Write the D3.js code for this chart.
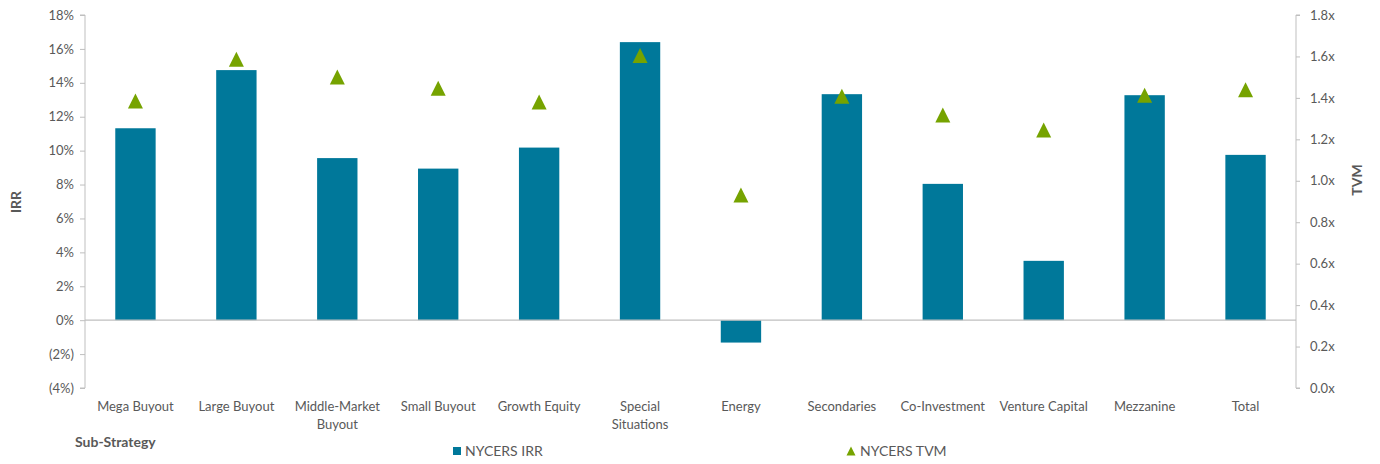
<!DOCTYPE html>
<html>
<head>
<meta charset="utf-8">
<script src="https://cdn.jsdelivr.net/npm/d3@7"></script>
<style>
  html, body { margin: 0; padding: 0; background: #fff; }
  svg text { font-family: Lato, "Open Sans", sans-serif; }
</style>
</head>
<body>
<svg id="chart" width="1380" height="464"></svg>
<script>
const categories = ["Mega Buyout", "Large Buyout", "Middle-Market Buyout", "Small Buyout", "Growth Equity",
  "Special Situations", "Energy", "Secondaries", "Co-Investment", "Venture Capital", "Mezzanine", "Total"];
const categoryLines = [["Mega Buyout"], ["Large Buyout"], ["Middle-Market", "Buyout"], ["Small Buyout"], ["Growth Equity"],
  ["Special", "Situations"], ["Energy"], ["Secondaries"], ["Co-Investment"], ["Venture Capital"], ["Mezzanine"], ["Total"]];
const irrValues = [11.32, 14.75, 9.56, 8.94, 10.18, 16.40, -1.32, 13.33, 8.04, 3.50, 13.27, 9.75];
const tvmValues = [1.385, 1.587, 1.501, 1.447, 1.380, 1.605, 0.931, 1.408, 1.318, 1.245, 1.413, 1.439];
const irrTicks = [-4, -2, 0, 2, 4, 6, 8, 10, 12, 14, 16, 18];
const tvmTicks = [0, 0.2, 0.4, 0.6, 0.8, 1.0, 1.2, 1.4, 1.6, 1.8];
const seriesNames = ["NYCERS IRR", "NYCERS TVM"];

const barColor = "#00789A";
const triColor = "#76A300";
const axisColor = "#BFBFBF";
const textColor = "#595959";

const svg = d3.select("#chart");
const pL = 85, pR = 1296, pT = 15, pB = 388;

const x = d3.scaleBand().domain(categories).range([pL, pR]).paddingInner(0.6).paddingOuter(0.3);
const xc = d3.scaleBand().domain(categories).range([pL, pR]);
const yL = d3.scaleLinear().domain([-4, 18]).range([pB, pT]);
const yR = d3.scaleLinear().domain([0, 1.8]).range([pB, pT]);

// Left axis
const gL = svg.append("g").attr("transform", `translate(${pL},0)`)
  .call(d3.axisLeft(yL).tickValues(irrTicks).tickSize(5).tickPadding(6)
    .tickFormat(d => d < 0 ? `(${Math.abs(d)}%)` : `${d}%`));
gL.select(".domain").attr("stroke", axisColor).attr("d", `M-5,${pT}H0V${pB}H-5`);
gL.selectAll(".tick line").attr("stroke", axisColor);
gL.selectAll(".tick text").attr("fill", textColor).attr("font-size", 13);

// Right axis
const gR = svg.append("g").attr("transform", `translate(${pR},0)`)
  .call(d3.axisRight(yR).tickValues(tvmTicks).tickSize(4).tickPadding(10)
    .tickFormat(d => d3.format(".1f")(d) + "x"));
gR.select(".domain").attr("stroke", axisColor).attr("d", `M4,${pT}H0V${pB}H4`);
gR.selectAll(".tick line").attr("stroke", axisColor);
gR.selectAll(".tick text").attr("fill", textColor).attr("font-size", 13);

// Bars
svg.append("g").selectAll("rect").data(categories).join("rect")
  .attr("x", d => x(d))
  .attr("width", x.bandwidth())
  .attr("y", (d, i) => yL(Math.max(0, irrValues[i])))
  .attr("height", (d, i) => Math.abs(yL(irrValues[i]) - yL(0)))
  .attr("fill", barColor);

// Zero line
svg.append("line").attr("x1", pL).attr("x2", pR)
  .attr("y1", yL(0)).attr("y2", yL(0))
  .attr("stroke", axisColor).attr("stroke-width", 1.2);

// Triangles
const tri = (cx, cy, w, h) => `M${cx},${cy - h / 2}L${cx + w / 2},${cy + h / 2}L${cx - w / 2},${cy + h / 2}Z`;
svg.append("g").selectAll("path").data(categories).join("path")
  .attr("d", (d, i) => tri(xc(d) + xc.bandwidth() / 2, yR(tvmValues[i]), 15, 15))
  .attr("fill", triColor);

// Category labels
const lbl = svg.append("g");
categories.forEach((c, i) => {
  const t = lbl.append("text").attr("x", xc(c) + xc.bandwidth() / 2).attr("y", 411)
    .attr("text-anchor", "middle").attr("fill", textColor).attr("font-size", 13);
  categoryLines[i].forEach((ln, j) => {
    t.append("tspan").attr("x", xc(c) + xc.bandwidth() / 2).attr("dy", j === 0 ? 0 : 18).text(ln);
  });
});

// Axis titles
svg.append("text").attr("transform", `translate(21,202) rotate(-90)`)
  .attr("text-anchor", "middle").attr("font-weight", "bold").attr("font-size", 14)
  .attr("fill", textColor).text("IRR");
svg.append("text").attr("transform", `translate(1362,180) rotate(-90)`)
  .attr("text-anchor", "middle").attr("font-weight", "bold").attr("font-size", 14)
  .attr("fill", textColor).text("TVM");
svg.append("text").attr("x", 75).attr("y", 447)
  .attr("font-weight", "bold").attr("font-size", 14)
  .attr("fill", textColor).text("Sub-Strategy");

// Legend
const leg = svg.append("g");
leg.append("rect").attr("x", 453).attr("y", 447).attr("width", 8).attr("height", 8).attr("fill", barColor);
leg.append("text").attr("x", 465).attr("y", 456).attr("font-size", 14).attr("fill", textColor).text(seriesNames[0]);
leg.append("path").attr("d", tri(851, 451, 9, 9)).attr("fill", triColor);
leg.append("text").attr("x", 860).attr("y", 456).attr("font-size", 14).attr("fill", textColor).text(seriesNames[1]);
</script>
</body>
</html>
